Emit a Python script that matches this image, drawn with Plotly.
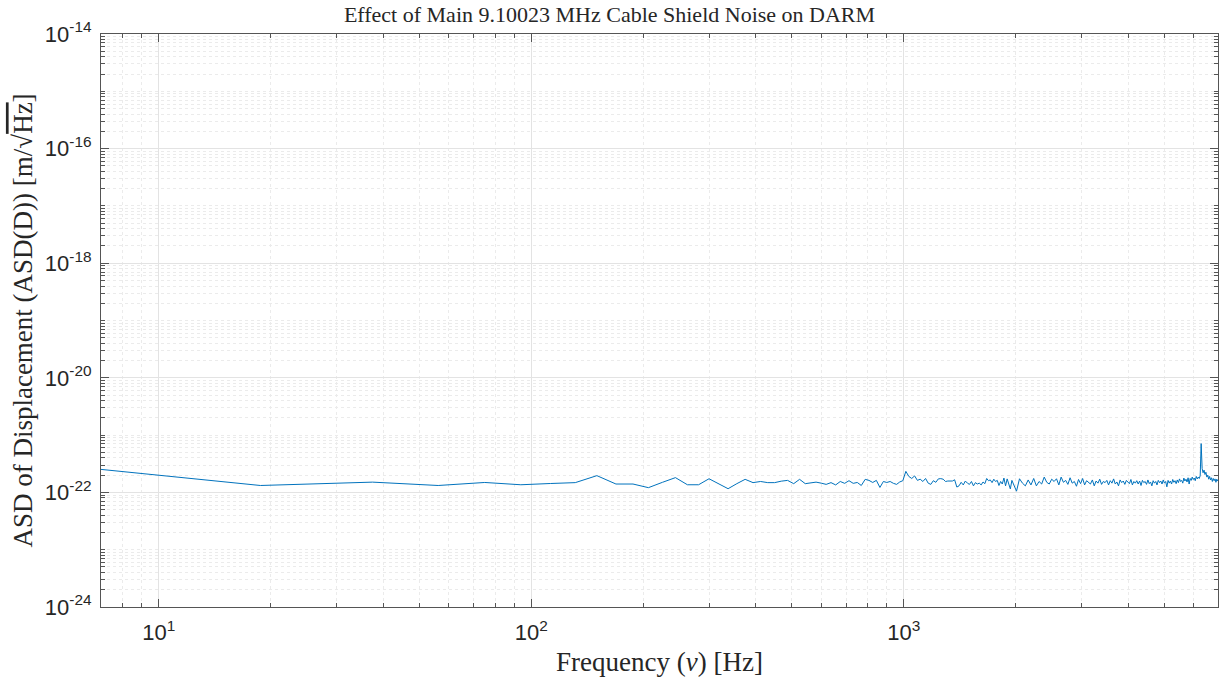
import math
import plotly.graph_objects as go

# Frequencies [Hz]
freq_low = [7, 18.75, 37.5, 56.25, 75, 93.75, 112.5, 131.25, 150, 168.75,
            187.5, 206.25, 225, 243.75, 262.5, 281.25, 300, 318.75, 337.5, 356.25,
            375, 393.75, 412.5, 431.25, 450, 468.75, 487.5, 506.25, 525, 543.75,
            562.5, 581.25, 600, 618.75, 637.5, 656.25, 675, 693.75, 712.5, 731.25,
            750, 768.75, 787.5, 806.25, 825, 843.75, 862.5, 881.25, 900, 918.75,
            937.5, 956.25, 975, 993.75, 1012.5, 1031.25, 1050, 1068.75, 1087.5, 1106.25,
            1125, 1143.75, 1162.5, 1181.25, 1200, 1218.75, 1237.5, 1256.25, 1275, 1293.75,
            1312.5, 1331.25, 1350, 1368.75, 1387.5, 1406.25, 1425, 1443.75, 1462.5, 1481.25,
            1500, 1518.75, 1537.5, 1556.25, 1575, 1593.75, 1612.5, 1631.25, 1650, 1668.75,
            1687.5, 1706.25, 1725, 1743.75, 1762.5, 1781.25, 1800, 1818.75, 1837.5, 1856.25,
            1875, 1893.75, 1912.5, 1931.25, 1950, 1968.75, 1987.5, 2006.25]

freq_high = [2043.75, 2081.25, 2118.75, 2156.25, 2193.75, 2231.25, 2268.75, 2306.25, 2343.75, 2381.25,
             2418.75, 2456.25, 2493.75, 2531.25, 2568.75, 2606.25, 2643.75, 2681.25, 2718.75, 2756.25,
             2793.75, 2831.25, 2868.75, 2906.25, 2943.75, 2981.25, 3018.75, 3056.25, 3093.75, 3131.25,
             3168.75, 3206.25, 3243.75, 3281.25, 3318.75, 3356.25, 3393.75, 3431.25, 3468.75, 3506.25,
             3543.75, 3581.25, 3618.75, 3656.25, 3693.75, 3731.25, 3768.75, 3806.25, 3843.75, 3881.25,
             3918.75, 3956.25, 3993.75, 4031.25, 4068.75, 4106.25, 4143.75, 4181.25, 4218.75, 4256.25,
             4293.75, 4331.25, 4368.75, 4406.25, 4443.75, 4481.25, 4518.75, 4556.25, 4593.75, 4631.25,
             4668.75, 4706.25, 4743.75, 4781.25, 4818.75, 4856.25, 4893.75, 4931.25, 4968.75, 5006.25,
             5043.75, 5081.25, 5118.75, 5156.25, 5193.75, 5231.25, 5268.75, 5306.25, 5343.75, 5381.25,
             5418.75, 5456.25, 5493.75, 5531.25, 5568.75, 5606.25, 5643.75, 5681.25, 5718.75, 5756.25,
             5793.75, 5831.25, 5868.75, 5906.25, 5943.75, 5981.25, 6018.75, 6056.25, 6093.75, 6131.25,
             6168.75, 6206.25, 6243.75, 6281.25, 6318.75, 6356.25, 6393.75, 6431.25, 6468.75, 6506.25,
             6543.75, 6581.25, 6618.75, 6656.25, 6693.75, 6731.25, 6768.75, 6806.25, 6843.75, 6881.25,
             6918.75, 6956.25]

# ASD values in units of 1e-22 m/sqrt(Hz)
asd_low = [2.52, 1.32, 1.51, 1.32, 1.49, 1.36, 1.43, 1.48, 1.96, 1.40,
           1.40, 1.21, 1.50, 1.81, 1.36, 1.36, 1.73, 1.40, 1.16, 1.42,
           1.69, 1.48, 1.55, 1.48, 1.48, 1.57, 1.62, 1.42, 1.69, 1.42,
           1.45, 1.51, 1.45, 1.38, 1.48, 1.35, 1.55, 1.44, 1.60, 1.44,
           1.49, 1.32, 1.69, 1.62, 1.49, 1.62, 1.22, 1.55, 1.49, 1.55,
           1.44, 1.38, 1.52, 1.60, 2.33, 1.90, 1.75, 1.94, 1.62, 1.70,
           1.55, 1.75, 1.45, 1.38, 1.60, 1.50, 1.72, 1.74, 1.70, 1.55,
           1.58, 1.56, 1.58, 1.66, 1.24, 1.30, 1.50, 1.35, 1.58, 1.45,
           1.38, 1.55, 1.30, 1.48, 1.40, 1.45, 1.35, 1.52, 1.42, 1.75,
           1.60, 1.65, 1.48, 1.70, 1.55, 1.62, 1.32, 1.55, 1.40, 1.78,
           1.30, 1.72, 1.45, 1.15, 1.62, 1.40, 1.25, 1.05]

asd_high = [1.73, 1.45, 1.30, 1.65, 1.35, 1.75, 1.30, 1.55, 1.40, 1.85,
            1.50, 1.40, 1.70, 1.55, 1.73, 1.35, 1.85, 1.50, 1.62, 1.38,
            1.80, 1.45, 1.55, 1.28, 1.68, 1.42, 1.75, 1.35, 1.60, 1.50,
            1.40, 1.65, 1.30, 1.58, 1.45, 1.70, 1.38, 1.55, 1.48, 1.62,
            1.35, 1.60, 1.45, 1.72, 1.40, 1.52, 1.30, 1.65, 1.48, 1.58,
            1.38, 1.62, 1.50, 1.42, 1.68, 1.35, 1.55, 1.45, 1.60, 1.40,
            1.58, 1.32, 1.62, 1.48, 1.55, 1.38, 1.65, 1.42, 1.52, 1.30,
            1.60, 1.45, 1.55, 1.35, 1.62, 1.48, 1.58, 1.40, 1.65, 1.45,
            1.55, 1.25, 1.62, 1.45, 1.58, 1.40, 1.68, 1.50, 1.60, 1.42,
            1.65, 1.48, 1.72, 1.55, 1.62, 1.45, 1.78, 1.58, 1.70, 1.52,
            1.80, 1.40, 1.75, 1.62, 1.85, 1.68, 1.78, 1.60, 1.90, 1.72,
            1.85, 1.75, 1.95, 7.10, 2.60, 2.20, 2.45, 2.05, 2.25, 1.85,
            2.00, 1.70, 1.90, 1.65, 1.80, 1.55, 1.75, 1.60, 1.72, 1.50,
            1.70, 1.58]
ASD_UNIT = 1e-22

x_tick_vals = [10, 100, 1000]
x_tick_text = ["10<sup>1</sup>", "10<sup>2</sup>", "10<sup>3</sup>"]
y_tick_vals = [1e-24, 1e-22, 1e-20, 1e-18, 1e-16, 1e-14]
y_tick_text = ["10<sup>-24</sup>", "10<sup>-22</sup>", "10<sup>-20</sup>",
               "10<sup>-18</sup>", "10<sup>-16</sup>", "10<sup>-14</sup>"]

freq = freq_low + freq_high
asd = [v * ASD_UNIT for v in asd_low + asd_high]

fig = go.Figure()
fig.add_trace(go.Scatter(x=freq, y=asd, mode="lines",
                         line=dict(color="#0072BD", width=1), showlegend=False))

axis_col = "#555555"
tick_font = dict(family="Liberation Sans, Arial, sans-serif", size=22, color="#262626")
serif = "Liberation Serif, Times New Roman, serif"

fig.update_xaxes(
    type="log", range=[math.log10(7), math.log10(6970)],
    tickmode="array", tickvals=x_tick_vals, ticktext=x_tick_text,
    ticks="inside", ticklen=8, tickwidth=1, tickcolor=axis_col,
    showline=True, linecolor=axis_col, linewidth=1, mirror="allticks",
    showgrid=True, gridcolor="#e3e3e3", gridwidth=1,
    minor=dict(ticks="inside", ticklen=4, tickcolor=axis_col, dtick="D1",
               showgrid=True, gridcolor="#ebebeb", griddash="dot", gridwidth=1),
    tickfont=tick_font, zeroline=False, ticklabelstandoff=6,
    title=dict(text="Frequency (<i>ν</i>) [Hz]", font=dict(family=serif, size=27, color="#262626"),
               standoff=7),
)
fig.update_yaxes(
    type="log", range=[-24, -14],
    tickmode="array", tickvals=y_tick_vals, ticktext=y_tick_text,
    ticks="inside", ticklen=8, tickwidth=1, tickcolor=axis_col,
    showline=True, linecolor=axis_col, linewidth=1, mirror="allticks",
    showgrid=True, gridcolor="#e3e3e3", gridwidth=1,
    minor=dict(ticks="inside", ticklen=4, tickcolor=axis_col, dtick="D1",
               showgrid=True, gridcolor="#ebebeb", griddash="dot", gridwidth=1),
    tickfont=tick_font, zeroline=False, ticklabelstandoff=4,
    title=dict(text="ASD of Displacement (ASD(D)) [m/√<span style='text-decoration:overline'>Hz</span>]",
               font=dict(family=serif, size=27, color="#262626"), standoff=4),
)
fig.update_layout(
    width=1219, height=682,
    margin=dict(l=101, r=1, t=34, b=75),
    paper_bgcolor="white", plot_bgcolor="white",
    title=dict(text="Effect of Main 9.10023 MHz Cable Shield Noise on DARM",
               x=0.5, xref="container", xanchor="center",
               y=1 - 14 / 682, yref="container", yanchor="middle",
               font=dict(family=serif, size=22, color="#262626")),
)
fig.write_html("out.html")
